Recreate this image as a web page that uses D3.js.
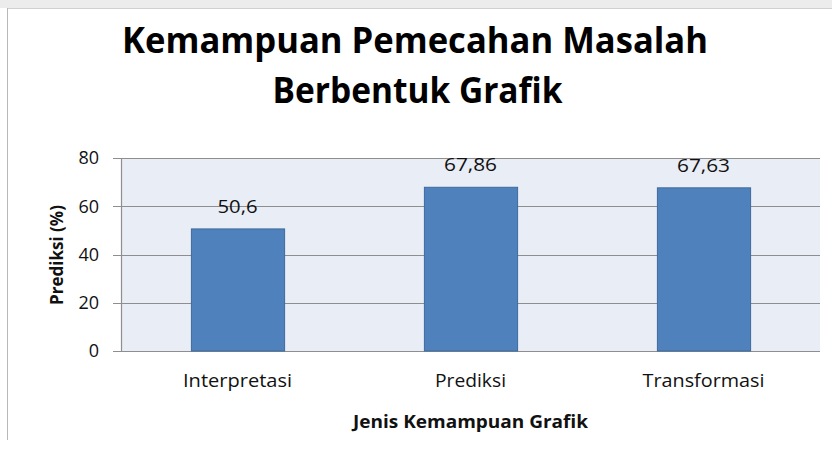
<!DOCTYPE html>
<html><head><meta charset="utf-8">
<script src="https://cdn.jsdelivr.net/npm/d3@7"></script>
<style>html,body{margin:0;padding:0;background:#fff;}svg{display:block;}</style>
</head><body>
<svg id="c" width="832" height="451"></svg>
<script>
const categories = ["Interpretasi", "Prediksi", "Transformasi"];
const values = [50.6, 67.86, 67.63];
const valueLabels = ["50,6", "67,86", "67,63"];
const yTicks = [0, 20, 40, 60, 80];
const titleLines = ["Kemampuan Pemecahan Masalah", "Berbentuk Grafik"];
const yTitle = "Prediksi (%)";
const xTitle = "Jenis Kemampuan Grafik";

const svg = d3.select("#c");
const font = "'Open Sans', sans-serif";
const m = {left: 121, right: 820, top: 158, bottom: 351};

// frame
svg.append("rect").attr("x",0).attr("y",0).attr("width",832).attr("height",8).attr("fill","#ececec");
svg.append("line").attr("x1",7).attr("x2",832).attr("y1",8.5).attr("y2",8.5).attr("stroke","#d0d0d0");
svg.append("line").attr("x1",7.5).attr("x2",7.5).attr("y1",8).attr("y2",440).attr("stroke","#b8b8b8");

const x = d3.scaleBand().domain(categories).range([m.left, m.right]).paddingInner(0.6).paddingOuter(0.3);
const y = d3.scaleLinear().domain([0, 80]).range([m.bottom, m.top]);

svg.append("rect").attr("x", m.left).attr("y", m.top).attr("width", m.right-m.left).attr("height", m.bottom-m.top).attr("fill","#e9edf5");

// grid
svg.append("g").selectAll("line").data(yTicks).join("line")
  .attr("x1", m.left-8).attr("x2", m.right)
  .attr("y1", d=>Math.round(y(d))+0.5).attr("y2", d=>Math.round(y(d))+0.5)
  .attr("stroke", "#8e8e8e").attr("stroke-width", 1.2);
svg.append("line").attr("x1", m.left+0.5).attr("x2", m.left+0.5).attr("y1", m.top).attr("y2", m.bottom).attr("stroke","#8e8e8e").attr("stroke-width",1.2);

// y tick labels
svg.append("g").selectAll("text").data(yTicks).join("text")
  .attr("x", 99).attr("y", d=>y(d)).attr("dy","0.36em").attr("text-anchor","end")
  .attr("font-family", font).attr("font-size", 18).attr("fill","#111").text(d=>d);

// bars
svg.append("g").selectAll("rect").data(values).join("rect")
  .attr("x", (d,i)=>x(categories[i])+0.5).attr("width", x.bandwidth())
  .attr("y", d=>y(d)).attr("height", d=>y(0)-y(d))
  .attr("fill", "#4f81bd").attr("stroke", "#3d6a9c").attr("stroke-width", 1);

// value labels
svg.append("g").selectAll("text").data(values).join("text")
  .attr("x", (d,i)=>x(categories[i])+x.bandwidth()/2).attr("y", d=>y(d)-16)
  .attr("text-anchor","middle").attr("font-family", font).attr("font-size", 19).attr("fill","#111")
  .attr("textLength", (d,i)=>[40,53,53][i]).attr("lengthAdjust","spacingAndGlyphs")
  .text((d,i)=>valueLabels[i]);

// x labels
const xLabW = [109, 71, 122];
svg.append("g").selectAll("text").data(categories).join("text")
  .attr("x", d=>x(d)+x.bandwidth()/2).attr("y", 387)
  .attr("text-anchor","middle").attr("font-family", font).attr("font-size", 19).attr("fill","#111")
  .attr("textLength", (d,i)=>xLabW[i]).attr("lengthAdjust","spacingAndGlyphs")
  .text(d=>d);

svg.append("text").attr("x", 470.5).attr("y", 428).attr("text-anchor","middle")
  .attr("font-family", font).attr("font-weight","bold").attr("font-size", 17.5).attr("fill","#111")
  .attr("textLength", 235).attr("lengthAdjust","spacingAndGlyphs").text(xTitle);

svg.append("text").attr("transform","translate(63,255) rotate(-90)").attr("text-anchor","middle")
  .attr("font-family", font).attr("font-weight","bold").attr("font-size", 18).attr("fill","#111")
  .attr("textLength", 100).attr("lengthAdjust","spacingAndGlyphs").text(yTitle);

// title
const titleW = [586, 290];
svg.append("g").selectAll("text").data(titleLines).join("text")
  .attr("x", (d,i)=>[415,417.5][i]).attr("y", (d,i)=>[53,103][i]).attr("text-anchor","middle")
  .attr("font-family", font).attr("font-weight","bold").attr("font-size", 36).attr("fill","#000")
  .attr("textLength", (d,i)=>titleW[i]).attr("lengthAdjust","spacingAndGlyphs")
  .text(d=>d);
</script>
</body></html>
